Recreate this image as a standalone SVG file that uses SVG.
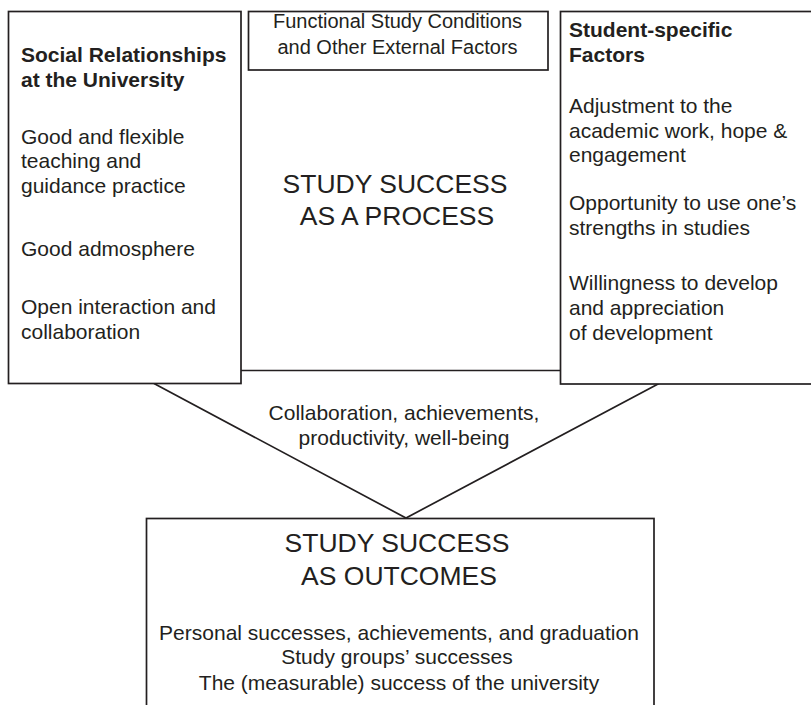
<svg xmlns="http://www.w3.org/2000/svg" width="811" height="705" viewBox="0 0 811 705">
<style>
.box{fill:#fff;stroke:#231f20;stroke-width:1.7}
.ln{fill:none;stroke:#231f20;stroke-width:1.7}
text{font-family:"Liberation Sans",Arial,sans-serif;fill:#231f20}
.b{font-weight:bold;font-size:21px}
.t{font-size:21px}
.s{font-size:20px}
.big{font-size:26.5px}
.c{text-anchor:middle}
</style>
<rect width="811" height="705" fill="#fff"/>
<g id="connectors">
<line class="ln" x1="241" y1="370.5" x2="560" y2="370.5"/>
<polyline class="ln" points="154,383.5 406,518 659,383.5"/>
</g>
<g id="social">
<rect class="box" x="8.5" y="11.5" width="232.5" height="372"/>
<text class="b" x="21" y="62">Social Relationships</text>
<text class="b" x="21" y="87">at the University</text>
<text class="t" x="21" y="144">Good and flexible</text>
<text class="t" x="21" y="168">teaching and</text>
<text class="t" x="21" y="193">guidance practice</text>
<text class="t" x="21" y="256">Good admosphere</text>
<text class="t" x="21" y="314">Open interaction and</text>
<text class="t" x="21" y="339">collaboration</text>
</g>
<g id="functional">
<rect class="box" x="248.5" y="11.5" width="299.5" height="58.5"/>
<text class="s c" x="397.5" y="28">Functional Study Conditions</text>
<text class="s c" x="397.5" y="54">and Other External Factors</text>
</g>
<g id="process">
<text class="big c" x="395" y="193">STUDY SUCCESS</text>
<text class="big c" x="397" y="225">AS A PROCESS</text>
</g>
<g id="student">
<rect class="box" x="560.5" y="11.5" width="260" height="372.5"/>
<text class="b" x="569" y="37">Student-specific</text>
<text class="b" x="569" y="62">Factors</text>
<text class="t" x="569" y="113">Adjustment to the</text>
<text class="t" x="569" y="138">academic work, hope &amp;</text>
<text class="t" x="569" y="162">engagement</text>
<text class="t" x="569" y="210">Opportunity to use one’s</text>
<text class="t" x="569" y="235">strengths in studies</text>
<text class="t" x="569" y="290">Willingness to develop</text>
<text class="t" x="569" y="315">and appreciation</text>
<text class="t" x="569" y="340">of development</text>
</g>
<g id="label">
<text class="t c" x="404" y="420">Collaboration, achievements,</text>
<text class="t c" x="404" y="445">productivity, well-being</text>
</g>
<g id="outcomes">
<rect class="box" x="146.5" y="518.5" width="507.5" height="200"/>
<text class="big c" x="397" y="552">STUDY SUCCESS</text>
<text class="big c" x="399" y="585">AS OUTCOMES</text>
<text class="t c" x="399" y="640">Personal successes, achievements, and graduation</text>
<text class="t c" x="397" y="664">Study groups’ successes</text>
<text class="t c" x="399" y="690">The (measurable) success of the university</text>
</g>
</svg>
